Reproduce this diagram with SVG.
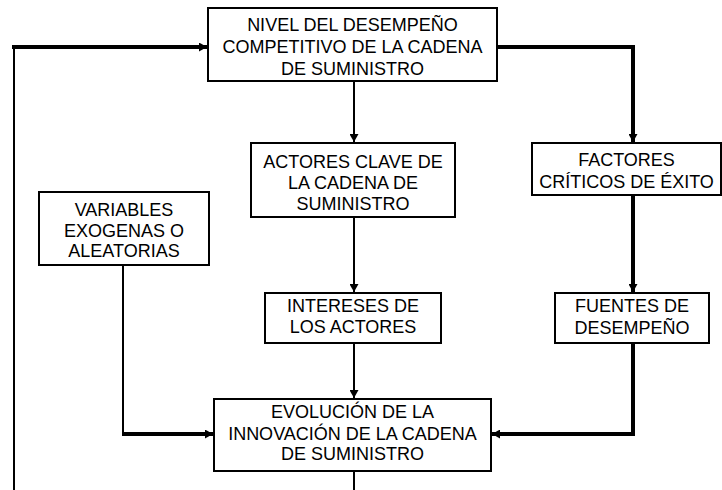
<svg xmlns="http://www.w3.org/2000/svg" width="722" height="490" viewBox="0 0 722 490">
<style>
.box{fill:#fff;stroke:#000;stroke-width:2}
.t{font-family:"Liberation Sans",Arial,sans-serif;font-size:18px;fill:#000;text-anchor:middle}
.thin{fill:none;stroke:#000;stroke-width:2}
.thick{fill:none;stroke:#000;stroke-width:4}
</style>
<defs>
<marker id="ah" markerUnits="userSpaceOnUse" markerWidth="9" markerHeight="9" refX="8" refY="4.5" orient="auto">
<path d="M0,0 L8,4.5 L0,9 z" fill="#000"/>
</marker>
</defs>
<rect width="722" height="490" fill="#fff"/>
<g id="connectors">
<path class="thin" d="M14,490 V47"/>
<path class="thick" d="M12,47 H207" marker-end="url(#ah)"/>
<path class="thick" d="M497,47 H633 V142" marker-end="url(#ah)"/>
<path class="thin" d="M354,81 V142" marker-end="url(#ah)"/>
<path class="thin" d="M354,217 V292" marker-end="url(#ah)"/>
<path class="thick" d="M633,195 V292" marker-end="url(#ah)"/>
<path class="thin" d="M354,343 V398" marker-end="url(#ah)"/>
<path class="thin" d="M123,265 V434"/>
<path class="thick" d="M122,434 H213" marker-end="url(#ah)"/>
<path class="thick" d="M633,343 V434 H492" marker-end="url(#ah)"/>
<path class="thin" d="M354,471 V490"/>
</g>
<g id="n_nivel">
<rect class="box" x="208" y="8" width="289" height="73"/>
<text class="t" x="352.5" y="31">NIVEL DEL DESEMPEÑO</text>
<text class="t" x="352.5" y="53">COMPETITIVO DE LA CADENA</text>
<text class="t" x="352.5" y="75">DE SUMINISTRO</text>
</g>
<g id="n_actores">
<rect class="box" x="251" y="143" width="204" height="74"/>
<text class="t" x="353" y="168">ACTORES CLAVE DE</text>
<text class="t" x="353" y="189">LA CADENA DE</text>
<text class="t" x="353" y="210">SUMINISTRO</text>
</g>
<g id="n_factores">
<rect class="box" x="532" y="143" width="189" height="52"/>
<text class="t" x="626.5" y="166">FACTORES</text>
<text class="t" x="626.5" y="188">CRÍTICOS DE ÉXITO</text>
</g>
<g id="n_variables">
<rect class="box" x="39" y="192" width="170" height="73"/>
<text class="t" x="124" y="216">VARIABLES</text>
<text class="t" x="124" y="237">EXOGENAS O</text>
<text class="t" x="124" y="257">ALEATORIAS</text>
</g>
<g id="n_intereses">
<rect class="box" x="265" y="293" width="176" height="50"/>
<text class="t" x="353" y="312">INTERESES DE</text>
<text class="t" x="353" y="333">LOS ACTORES</text>
</g>
<g id="n_fuentes">
<rect class="box" x="555" y="293" width="154" height="50"/>
<text class="t" x="632" y="312">FUENTES DE</text>
<text class="t" x="632" y="334">DESEMPEÑO</text>
</g>
<g id="n_evolucion">
<rect class="box" x="214" y="399" width="277" height="72"/>
<text class="t" x="352.5" y="418">EVOLUCIÓN DE LA</text>
<text class="t" x="352.5" y="440">INNOVACIÓN DE LA CADENA</text>
<text class="t" x="352.5" y="460">DE SUMINISTRO</text>
</g>
</svg>
